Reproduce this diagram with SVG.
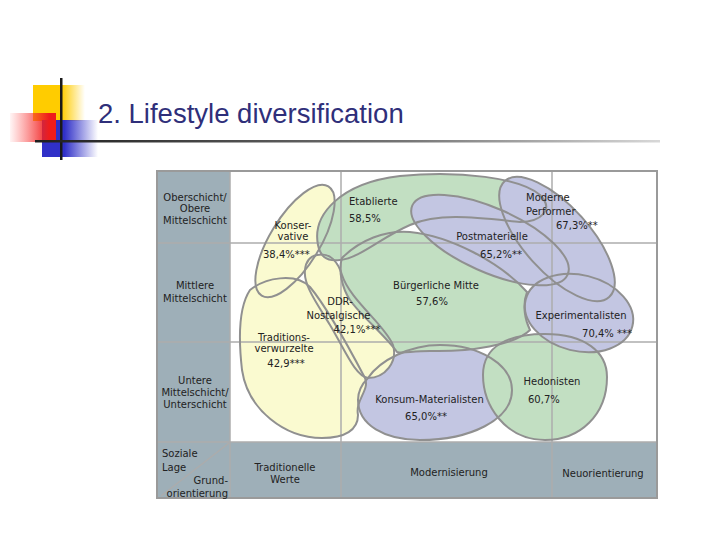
<svg xmlns="http://www.w3.org/2000/svg" width="720" height="540" viewBox="0 0 720 540">
<defs>
  <linearGradient id="gY" x1="0" y1="0" x2="1" y2="0">
    <stop offset="0" stop-color="#ffcc00"/><stop offset="0.55" stop-color="#ffcc00"/><stop offset="1" stop-color="#ffcc00" stop-opacity="0"/>
  </linearGradient>
  <linearGradient id="gB" x1="0" y1="0" x2="1" y2="0">
    <stop offset="0" stop-color="#3030c8"/><stop offset="0.4" stop-color="#3030c8"/><stop offset="1" stop-color="#3030c8" stop-opacity="0"/>
  </linearGradient>
  <linearGradient id="gR" x1="0" y1="0" x2="1" y2="0">
    <stop offset="0" stop-color="#ff4040" stop-opacity="0.05"/><stop offset="0.85" stop-color="#ee1c1c"/><stop offset="1" stop-color="#ee1c1c"/>
  </linearGradient>
  <linearGradient id="gL" x1="0" y1="0" x2="1" y2="0">
    <stop offset="0" stop-color="#1e1e1e"/><stop offset="0.6" stop-color="#777"/><stop offset="1" stop-color="#d8d8d8"/>
  </linearGradient>
  <path id="pKonsum" d="M368,378 C380,360 410,345 440,345 C480,345 512,365 512,390 C512,420 470,440 420,440 C385,440 358,425 358,400 C358,390 362,384 368,378 Z"/>
  <path id="pTrad" d="M250,290 C265,278 295,272 310,287 C325,305 345,340 365,378 C370,390 355,400 358,415 C358,430 345,438 322,438 C285,438 248,410 242,370 C238,335 240,305 250,290 Z"/>
  <path id="pDDR" d="M317,255 C330,252 338,262 342,275 C350,300 385,325 393,345 C398,362 385,378 368,378 C355,376 345,350 330,325 C318,305 303,285 305,270 C306,260 311,256 317,255 Z"/>
  <ellipse id="pKons" cx="0" cy="0" rx="64" ry="25" transform="translate(295,241) rotate(-58.6)"/>
  <path id="pBuerg" d="M342,258 C360,240 385,230 410,232 C450,236 500,262 527,292 C522,305 525,320 530,330 C515,345 470,352 430,351 C412,351 402,354 397,352 C385,335 360,315 350,300 C342,288 338,270 342,258 Z"/>
  <path id="pEtab" d="M318,245 C312,215 340,183 400,176 C460,170 520,178 540,195 C555,210 540,222 520,222 C480,218 440,212 410,225 C380,238 360,258 340,260 C325,262 320,255 318,245 Z"/>
  <path id="pHedo" d="M483,375 C483,345 510,334 545,334 C585,334 607,352 607,377 C607,415 580,440 545,440 C505,440 483,405 483,375 Z"/>
  <ellipse id="pExp" cx="0" cy="0" rx="55" ry="38" transform="translate(579,313) rotate(14)"/>
  <ellipse id="pPost" cx="0" cy="0" rx="85" ry="32" transform="translate(490,240) rotate(24)"/>
  <ellipse id="pMod" cx="0" cy="0" rx="78" ry="33" transform="translate(557,239) rotate(48)"/>
</defs>
<style>
  .yel { fill: #fafad0; }
  .grn { fill: #c2dfc2; }
  .lav { fill: #c3c6e2; }
  .ol { fill: none; stroke: #909090; stroke-width: 2; }
  .grid { stroke: #acacac; stroke-width: 1.5; fill: none; }
  .axis { fill: #9eafb8; }
  .t { font-family: "DejaVu Sans", "Liberation Sans", sans-serif; font-size: 10px; fill: #222; }
  .m { text-anchor: middle; }
  .e { text-anchor: end; }
</style>
<rect width="720" height="540" fill="#ffffff"/>

<g id="header">
  <rect x="33" y="85" width="52" height="36" fill="url(#gY)"/>
  <rect x="42" y="120" width="56" height="37" fill="url(#gB)"/>
  <rect x="10" y="113" width="46" height="29" fill="url(#gR)"/>
  <rect x="60" y="78" width="2.5" height="82" fill="#1a1a1a"/>
  <rect x="35" y="140" width="625" height="2.5" fill="url(#gL)"/>
  <text x="98" y="123" font-family="'Liberation Sans', Arial, sans-serif" font-size="27.5" fill="#2f2f7a">2. Lifestyle diversification</text>
</g>

<g id="table-background">
  <rect x="157" y="171" width="500" height="327" fill="#ffffff"/>
  <rect class="axis" x="157" y="171" width="73" height="271"/>
  <rect class="axis" x="157" y="442" width="500" height="56"/>
</g>

<g id="fills">
  <use href="#pKonsum" class="lav"/>
  <use href="#pTrad" class="yel"/>
  <use href="#pDDR" class="yel"/>
  <use href="#pKons" class="yel"/>
  <use href="#pBuerg" class="grn"/>
  <use href="#pEtab" class="grn"/>
  <use href="#pHedo" class="grn"/>
  <use href="#pExp" class="lav"/>
  <use href="#pPost" class="lav"/>
  <use href="#pMod" class="lav"/>
</g>

<g id="grid" class="grid">
  <line x1="157" y1="243" x2="657" y2="243"/>
  <line x1="157" y1="342" x2="657" y2="342"/>
  <line x1="157" y1="442" x2="657" y2="442"/>
  <line x1="230" y1="171" x2="230" y2="498"/>
  <line x1="341" y1="171" x2="341" y2="498"/>
  <line x1="552" y1="171" x2="552" y2="498"/>
  <line x1="161" y1="496" x2="229" y2="443"/>
  <rect x="157" y="171" width="500" height="327" stroke="#9a9a9a" stroke-width="2"/>
</g>

<g id="outlines" class="ol">
  <use href="#pKonsum"/>
  <use href="#pTrad"/>
  <use href="#pDDR"/>
  <use href="#pKons"/>
  <use href="#pBuerg"/>
  <use href="#pEtab"/>
  <use href="#pHedo"/>
  <use href="#pExp"/>
  <use href="#pPost"/>
  <use href="#pMod"/>
</g>

<g id="axis-labels" class="t">
  <text class="m" x="195" y="201">Oberschicht/</text>
  <text class="m" x="195" y="212">Obere</text>
  <text class="m" x="195" y="223.5">Mittelschicht</text>
  <text class="m" x="195" y="289">Mittlere</text>
  <text class="m" x="195" y="302">Mittelschicht</text>
  <text class="m" x="195" y="383.5">Untere</text>
  <text class="m" x="195" y="395.5">Mittelschicht/</text>
  <text class="m" x="195" y="407.5">Unterschicht</text>
  <text x="162" y="457">Soziale</text>
  <text x="162" y="470.5">Lage</text>
  <text class="e" x="228" y="483.5">Grund-</text>
  <text class="e" x="228" y="496.5">orientierung</text>
  <text class="m" x="285" y="470.5">Traditionelle</text>
  <text class="m" x="285" y="482.5">Werte</text>
  <text class="m" x="449" y="475.5">Modernisierung</text>
  <text class="m" x="603" y="476.5">Neuorientierung</text>
</g>

<g id="node-konservative" class="t">
  <text class="m" x="293" y="228.5">Konser-</text>
  <text class="m" x="293" y="240">vative</text>
  <text x="263" y="258">38,4%***</text>
</g>
<g id="node-etablierte" class="t">
  <text x="349" y="205">Etablierte</text>
  <text x="349" y="221.5">58,5%</text>
</g>
<g id="node-moderne-performer" class="t">
  <text x="526" y="201">Moderne</text>
  <text x="526" y="214.5">Performer</text>
  <text x="556" y="229">67,3%**</text>
</g>
<g id="node-postmaterielle" class="t">
  <text class="m" x="492" y="239.5">Postmaterielle</text>
  <text class="m" x="501" y="257.5">65,2%**</text>
</g>
<g id="node-buergerliche-mitte" class="t">
  <text class="m" x="436" y="288.5">Bürgerliche Mitte</text>
  <text class="m" x="432" y="305">57,6%</text>
</g>
<g id="node-ddr-nostalgische" class="t">
  <text class="m" x="340" y="305">DDR-</text>
  <text class="m" x="338.5" y="318.5">Nostalgische</text>
  <text class="m" x="357" y="333">42,1%***</text>
</g>
<g id="node-traditionsverwurzelte" class="t">
  <text class="m" x="284" y="340.5">Traditions-</text>
  <text class="m" x="284" y="351.5">verwurzelte</text>
  <text class="m" x="286" y="367">42,9***</text>
</g>
<g id="node-experimentalisten" class="t">
  <text class="m" x="581" y="318.5">Experimentalisten</text>
  <text class="m" x="607" y="336.5">70,4% ***</text>
</g>
<g id="node-hedonisten" class="t">
  <text class="m" x="552" y="385">Hedonisten</text>
  <text x="528" y="402.5">60,7%</text>
</g>
<g id="node-konsum-materialisten" class="t">
  <text class="m" x="429.5" y="402.5">Konsum-Materialisten</text>
  <text class="m" x="426" y="419.5">65,0%**</text>
</g>
</svg>
